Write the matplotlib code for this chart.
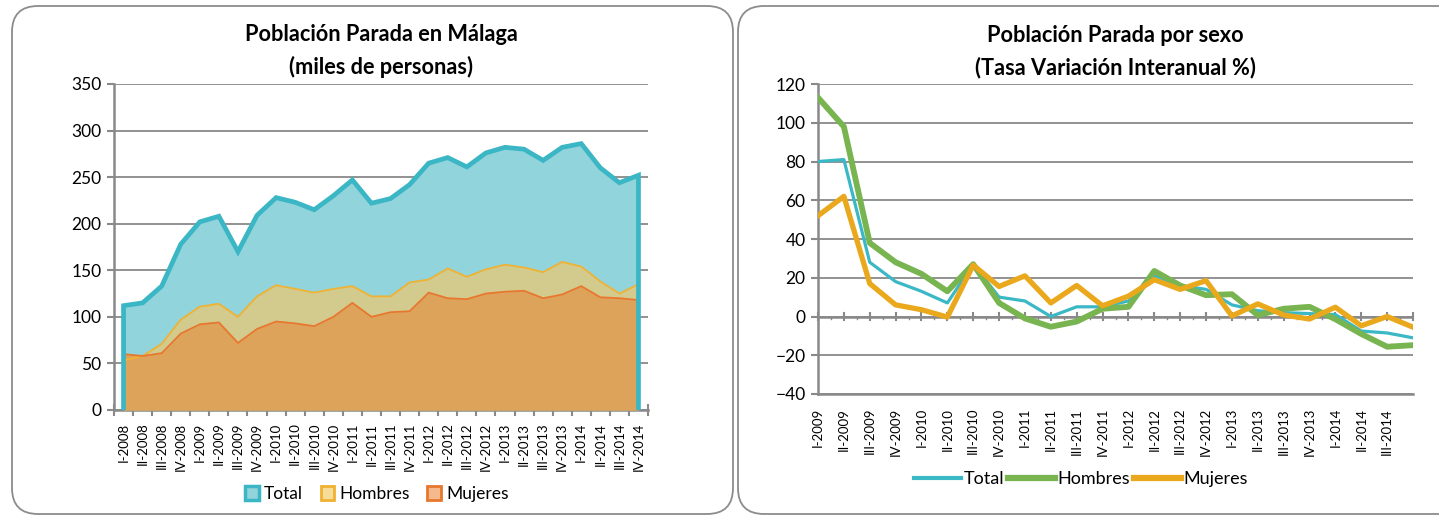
import matplotlib
matplotlib.use("Agg")
import matplotlib.pyplot as plt
from matplotlib.patches import FancyBboxPatch, Patch
from matplotlib.lines import Line2D
from matplotlib.ticker import FixedLocator

plt.rcParams["font.family"] = ["Lato", "DejaVu Sans"]

# left chart: unemployed people in Malaga (thousands)
quarters = ["I-2008", "II-2008", "III-2008", "IV-2008",
            "I-2009", "II-2009", "III-2009", "IV-2009",
            "I-2010", "II-2010", "III-2010", "IV-2010",
            "I-2011", "II-2011", "III-2011", "IV-2011",
            "I-2012", "II-2012", "III-2012", "IV-2012",
            "I-2013", "II-2013", "III-2013", "IV-2013",
            "I-2014", "II-2014", "III-2014", "IV-2014"]
total = [112, 115, 133, 178, 202, 208, 170, 209, 228, 223, 215, 230, 247, 222,
         227, 242, 265, 271, 261, 276, 282, 280, 268, 282, 286, 260, 244, 252]
hombres = [53, 58, 71, 97, 111, 114, 100, 122, 134, 130, 126, 130, 133, 122,
           122, 137, 140, 152, 143, 151, 156, 153, 148, 159, 154, 138, 125, 135]
mujeres = [60, 58, 61, 82, 92, 94, 72, 87, 95, 93, 90, 100, 115, 100,
           105, 106, 126, 120, 119, 125, 127, 128, 120, 124, 133, 121, 120, 118]

# right chart: year-on-year change (%)
quarters_var = quarters[4:]
var_total = [80, 81, 28, 18, 13, 7, 27, 10, 8, 0, 5, 5,
             8, 21, 16, 14, 6, 3, 2, 1.5, 1, -7.5, -8.5, -11]
var_hombres = [113, 98, 38, 28, 22, 13, 27, 7, -1, -5.3, -2.6, 4,
               5, 23.5, 16, 11, 11.5, 0.7, 4, 5, -1.4, -9, -15.6, -14.8]
var_mujeres = [52, 62, 17, 6, 3.5, -0.3, 26.5, 15.5, 21, 7, 16, 5.5,
               10.5, 19, 14, 18.5, 0.3, 6.5, 0.8, -1.3, 4.8, -4.8, 0, -5.5]

GRID = "#898989"
W, H = 1439, 516

fig = plt.figure(figsize=(W / 100, H / 100), dpi=100)

# rounded frames of the two panels, in pixels
for x0, x1 in [(12, 733), (738, 1470)]:
    box = FancyBboxPatch((x0, H - 514), x1 - x0, 508,
                         boxstyle="round,pad=0,rounding_size=26",
                         transform=None, fc="none", ec="#8c8c8c", lw=1.3)
    fig.patches.append(box)


def style_axes(ax):
    for s in ["top", "right"]:
        ax.spines[s].set_visible(False)
    for s in ["left", "bottom"]:
        ax.spines[s].set_color(GRID)
        ax.spines[s].set_linewidth(1.8)
    ax.yaxis.grid(True, color=GRID, lw=1.3)
    ax.set_axisbelow(True)
    ax.tick_params(axis="y", length=5, width=1.5, color=GRID, labelsize=12.5, pad=4)


# ---- left chart ----
ax1 = fig.add_axes([114 / W, 1 - 410 / H, 534 / W, 326 / H])
style_axes(ax1)
x = list(range(len(quarters)))
ax1.fill_between(x, total, color="#92d4dc", lw=0, zorder=2)
ax1.fill_between(x, hombres, color="#f0c86d", alpha=0.7, lw=0, zorder=3)
ax1.fill_between(x, mujeres, color="#dea35b", lw=0, zorder=4)
ax1.plot([0] + x + [x[-1]], [0] + hombres + [0], color="#f0b232", lw=1.3, zorder=5)
ax1.plot([0] + x + [x[-1]], [0] + mujeres + [0], color="#e8772e", lw=1.3, zorder=6)
ax1.plot([0] + x + [x[-1]], [0] + total + [0], color="#3bb6c4", lw=3.4, zorder=7,
         solid_joinstyle="miter")
ax1.set_xlim(-0.5, len(quarters) - 0.5)
ax1.set_ylim(0, 350)
ax1.set_yticks(range(0, 351, 50))
ax1.set_xticks(x)
ax1.set_xticklabels(quarters, rotation=90, fontsize=9.5)
ax1.xaxis.set_minor_locator(FixedLocator([i - 0.5 for i in range(len(quarters) + 1)]))
ax1.tick_params(axis="x", which="major", length=0, pad=9)
ax1.tick_params(axis="x", which="minor", direction="inout", length=8, width=1.5, color=GRID)
ax1.set_title("Población Parada en Málaga\n(miles de personas)", fontsize=15.7,
              fontweight="bold", linespacing=1.6, pad=7)
handles1 = [Patch(fc="#92d4dc", ec="#3bb6c4", lw=2.5),
            Patch(fc="#f7dc9a", ec="#f0b232", lw=2),
            Patch(fc="#f4b98c", ec="#e8772e", lw=2)]
fig.legend(handles1, ["Total", "Hombres", "Mujeres"], loc="center",
           bbox_to_anchor=(377 / W, 1 - 494 / H), ncol=3, frameon=False,
           fontsize=12.5, handlelength=0.8, handleheight=0.8, handletextpad=0.3,
           columnspacing=1.0)

# ---- right chart ----
ax2 = fig.add_axes([818 / W, 1 - 394 / H, 595 / W, 310 / H])
style_axes(ax2)
x2 = list(range(len(quarters_var)))
ax2.plot(x2, var_total, color="#3bb8c6", lw=2.3, zorder=3)
ax2.plot(x2, var_hombres, color="#78b44f", lw=4.2, zorder=4)
ax2.plot(x2, var_mujeres, color="#eaa81c", lw=3.8, zorder=5)
ax2.axhline(0, color=GRID, lw=1.8, zorder=2)
ax2.set_xlim(0, len(quarters_var) - 1)
ax2.set_ylim(-40, 120)
ax2.set_yticks(range(-40, 121, 20))
ax2.set_xticks(x2)
ax2.set_xticklabels(quarters_var[:-1] + [""], rotation=90, fontsize=9.5)
ax2.tick_params(axis="x", which="major", length=0, pad=10)
ax2.set_title("Población Parada por sexo\n(Tasa Variación Interanual %)", fontsize=15.7,
              fontweight="bold", linespacing=1.6, pad=7)
# tick marks sit on the zero line
for i in x2:
    ax2.plot([i, i], [-1.6, 1.6], color=GRID, lw=1.5, zorder=2, clip_on=False)
    if i < x2[-1]:
        ax2.plot([i + 0.5, i + 0.5], [-1.3, 0], color=GRID, lw=1.0, zorder=2)
handles2 = [Line2D([], [], color="#3bb8c6", lw=3),
            Line2D([], [], color="#78b44f", lw=4.5),
            Line2D([], [], color="#eaa81c", lw=4.5)]
fig.legend(handles2, ["Total", "Hombres", "Mujeres"], loc="center",
           bbox_to_anchor=(1081 / W, 1 - 479 / H), ncol=3, frameon=False,
           fontsize=13, handlelength=2.6, handletextpad=0.15, columnspacing=0.2)

fig.savefig("out.png", dpi=100)
